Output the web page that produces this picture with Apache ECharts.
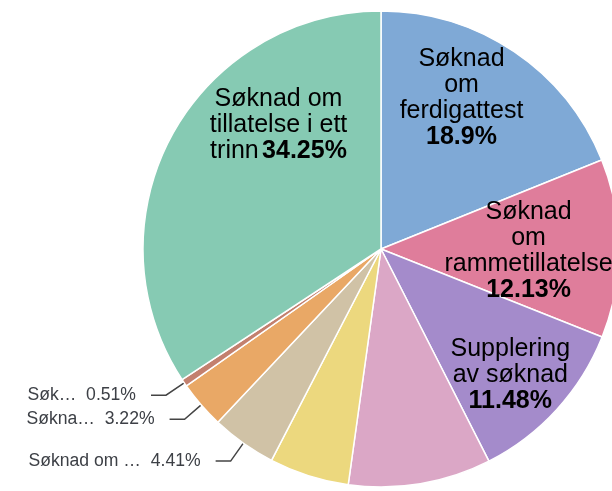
<!DOCTYPE html>
<html>
<head>
<meta charset="utf-8">
<script src="https://cdn.jsdelivr.net/npm/echarts@6/dist/echarts.min.js"></script>
<style>
  html, body { margin: 0; padding: 0; background: #fff; }
  #chart { width: 612px; height: 491px; }
</style>
</head>
<body>
<div id="chart"></div>
<script>
// slice names (clockwise from 12 o'clock)
const names = [
  'Søknad om ferdigattest',
  'Søknad om rammetillatelse',
  'Supplering av søknad',
  'Søknad om endring av tillatelse',
  'Søknad om midlertidig brukstillatelse',
  'Søknad om dispensasjon',
  'Søknad om igangsettingstillatelse',
  'Søknad om tiltak uten ansvarsrett',
  'Søknad om tillatelse i ett trinn'
]
const values = [18.9, 12.13, 11.48, 9.69, 5.41, 4.41, 3.22, 0.51, 34.25]
const colors = ['#7fa9d6', '#df7d9b', '#a48bcb', '#dba7c6', '#ecd87e', '#d0c2a6', '#e9a866', '#c3806e', '#86cab3']
// text shown on the chart ('' = no label)
const labelTexts = [
  'Søknad\nom\nferdigattest',
  'Søknad\nom\nrammetillatelse',
  'Supplering\nav søknad',
  '',
  '',
  'Søknad om …',
  'Søkna…',
  'Søk…',
  'Søknad om\ntillatelse i ett\ntrinn'
]

const cx = 381
const cy = 249
const R = 238

// inside labels: [fraction of radius, angle shift in degrees]
const placement = { 0: [0.72, -6], 1: [0.62, 1], 2: [0.76, 2], 8: [0.675, 22] }

const font = '"Liberation Sans", Arial, Helvetica, sans-serif'

const chart = echarts.init(document.getElementById('chart'))

const data = names.map((name, i) => {
  const item = { name, value: values[i], itemStyle: { color: colors[i] } }
  if (placement[i]) {
    const sep = i === 8 ? ' ' : '\n'
    item.label = {
      position: 'inside',
      formatter: (p) => `{n|${labelTexts[i]}}${sep}{p|${p.percent}%}`,
      rich: {
        n: { fontSize: 25, lineHeight: 26, color: '#000', fontFamily: font, align: 'center' },
        p: { fontSize: 25, lineHeight: 26, color: '#000', fontWeight: 'bold', fontFamily: font, align: 'center' },
      },
    }
    item.labelLine = { show: false }
  } else if (labelTexts[i]) {
    item.label = {
      position: 'outside',
      formatter: (p) => `${labelTexts[i]}  ${p.percent}%`,
      fontSize: 17.6,
      color: '#3d4046',
      fontFamily: font,
      distanceToLabelLine: 15,
    }
  } else {
    item.label = { show: false }
    item.labelLine = { show: false }
  }
  return item
})

const option = {
  animation: false,
  series: [
    {
      type: 'pie',
      center: [cx, cy],
      radius: R,
      startAngle: 90,
      clockwise: true,
      avoidLabelOverlap: false,
      percentPrecision: 2,
      data,
      itemStyle: { borderColor: '#fff', borderWidth: 1.5 },
      labelLine: {
        length: 22,
        length2: 15,
        lineStyle: { color: '#444', width: 1.5 },
      },
      labelLayout: (p) => {
        const pl = placement[p.dataIndex]
        if (!pl) return {}
        const r = p.labelRect
        const lx = r.x + r.width / 2
        const ly = r.y + r.height / 2
        const ang = Math.atan2(lx - cx, cy - ly) + (pl[1] * Math.PI) / 180
        const tx = cx + pl[0] * R * Math.sin(ang)
        const ty = cy - pl[0] * R * Math.cos(ang)
        return { dx: tx - lx, dy: ty - ly }
      },
    },
  ],
}

chart.setOption(option)
</script>
</body>
</html>
